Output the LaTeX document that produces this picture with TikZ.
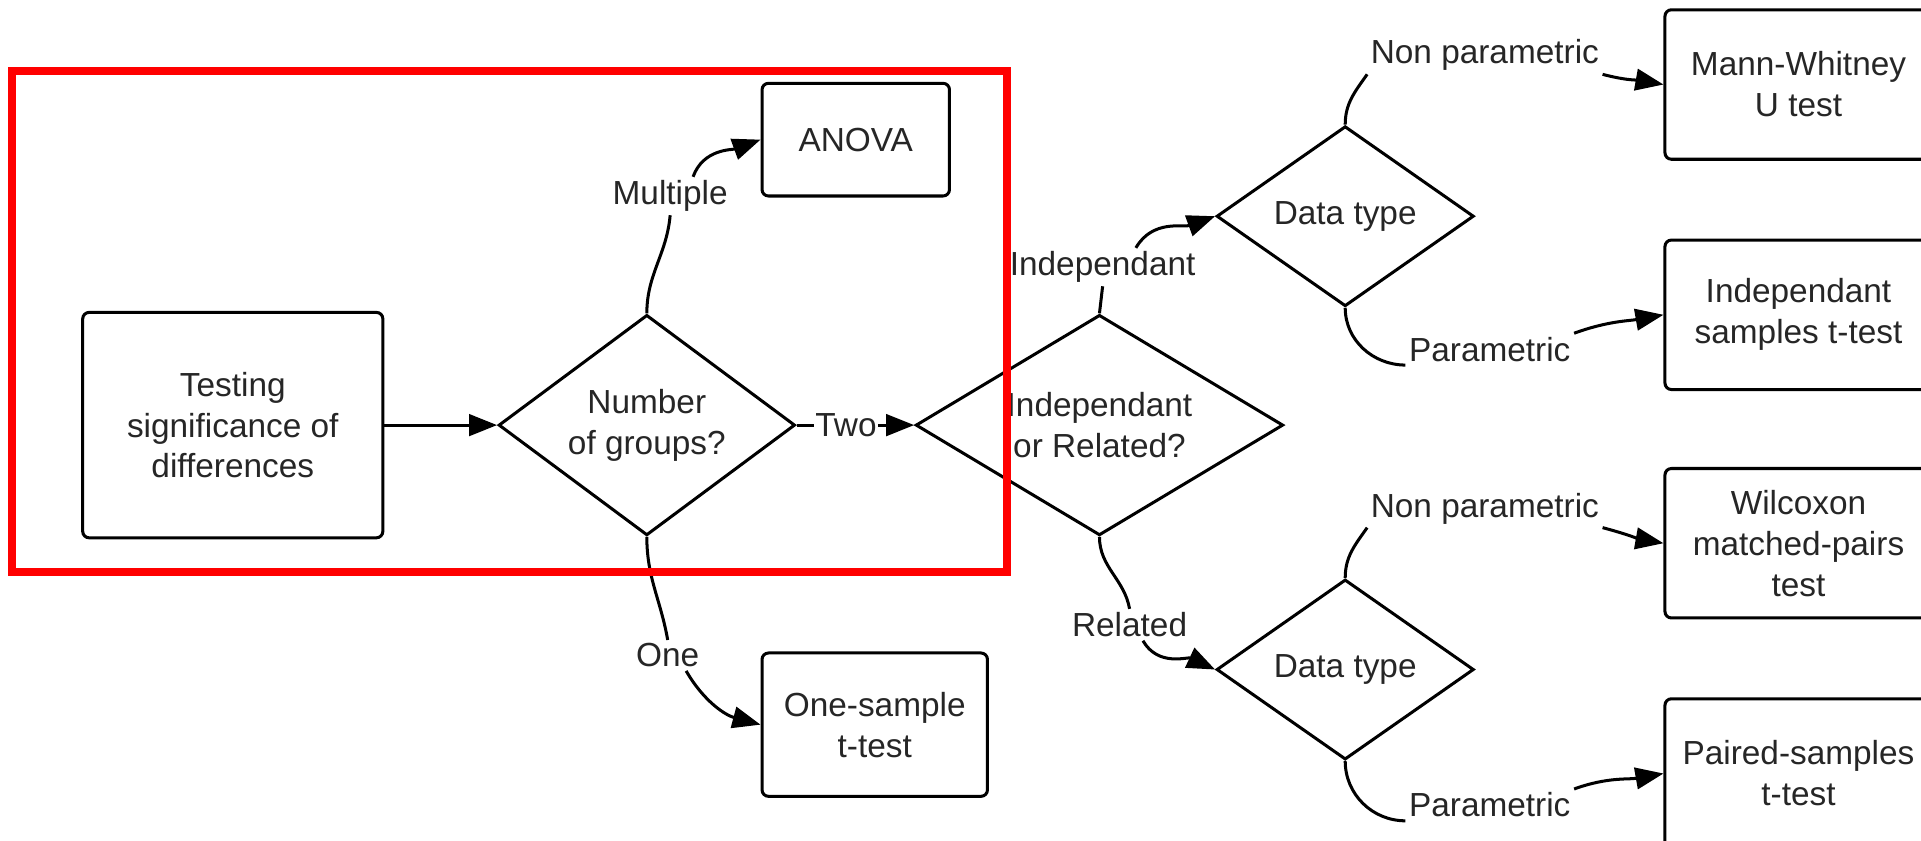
\documentclass[tikz,border=0pt]{standalone}
\usepackage{fontspec}
\setmainfont{Liberation Sans}
\usetikzlibrary{arrows.meta, positioning, shapes.geometric}

\begin{document}
\begin{tikzpicture}[
    every node/.style={font=\fontsize{15.5}{19}\selectfont, text=black!85},
    box/.style={rectangle, rounded corners=3pt, draw, line width=1.4pt, align=center},
    result/.style={box, minimum width=4.36cm, minimum height=2.44cm},
    decision/.style={diamond, draw, line width=1.4pt, align=center, inner sep=0pt},
    lbl/.style={fill=white, inner sep=1.5pt},
    link/.style={line width=1.4pt},
    arrow/.style={link, -{Triangle[length=13pt, width=10pt]}}
]

\fill[white] (0,0) rectangle (31.36,13.72);
\useasboundingbox (0,0) rectangle (31.36,13.72);
\clip (0,0) rectangle (31.36,13.72);

% main chain
\node[box, minimum width=4.9cm, minimum height=3.68cm] (start) at (3.80,6.78) {Testing\\significance of\\differences};
\node[decision, aspect=1.35, minimum width=4.84cm, minimum height=3.6cm, right=1.84cm of start] (groups) {Number\\of groups?};
\node[decision, aspect=1.67, minimum width=6cm, minimum height=3.6cm, right=1.92cm of groups] (relation) {Independant\\or Related?};

\node[box, minimum width=3.06cm, minimum height=1.84cm] (anova) at (13.97,11.44) {ANOVA};
\node[box, minimum width=3.68cm, minimum height=2.34cm] (onesample) at (14.28,1.89) {One-sample\\t-test};

\node[decision, aspect=1.43, minimum width=4.2cm, minimum height=2.94cm] (typeA) at (21.96,10.19) {Data type};
\node[decision, aspect=1.43, minimum width=4.2cm, minimum height=2.94cm] (typeB) at (21.96,2.79) {Data type};

% tests on the right
\node[result] (mannwhitney) at (29.36,12.34) {Mann-Whitney\\U test};
\node[result, below=1.27cm of mannwhitney] (indsamples) {Independant\\samples t-test};
\node[result, below=1.24cm of indsamples]  (wilcoxon)   {Wilcoxon\\matched-pairs\\test};
\node[result, below=1.27cm of wilcoxon]    (paired)     {Paired-samples\\t-test};

% branch labels
\node[lbl] (multiple) at (10.94,10.52) {Multiple};
\node[lbl] (one)      at (10.90,3.02)  {One};
\node[lbl] (indep)    at (18.00,9.36)  {Independant};
\node[lbl] (related)  at (18.44,3.52)  {Related};
\node[lbl] (nonparA)  at (24.24,12.82) {Non parametric};
\node[lbl] (parA)     at (24.32,8.02)  {Parametric};
\node[lbl] (nonparB)  at (24.24,5.42)  {Non parametric};
\node[lbl] (parB)     at (24.32,0.58)  {Parametric};

\draw[arrow] (start) -- (groups);
\draw[arrow] (groups) -- node[lbl, inner sep=0.5pt, pos=0.42] (two) {Two} (relation);

\draw[link]  (groups.north) to[out=90, in=-95] (multiple.south);
\draw[arrow] (multiple.40) to[out=70, in=200] (anova.west);
\draw[link]  (groups.south) to[out=-90, in=100] (one.north);
\draw[arrow] (one.-40) to[out=-60, in=165] (onesample.west);

\draw[link]  (relation.north) -- (indep.south);
\draw[arrow] (indep.30) to[out=60, in=200] (typeA.west);
\draw[link]  (relation.south) to[out=-90, in=100] (related.north);
\draw[arrow] (related.-50) to[out=-60, in=155] (typeB.west);

\draw[link]  (typeA.north) to[out=90, in=235] (nonparA.south west);
\draw[arrow] (nonparA.south east) to[out=-15, in=170] (mannwhitney.west);
\draw[link]  (typeA.south) to[out=-90, in=180] (parA.south west);
\draw[arrow] (parA.north east) to[out=20, in=190] (indsamples.west);

\draw[link]  (typeB.north) to[out=90, in=235] (nonparB.south west);
\draw[arrow] (nonparB.south east) to[out=-15, in=170] (wilcoxon.west);
\draw[link]  (typeB.south) to[out=-90, in=180] (parB.south west);
\draw[arrow] (parB.north east) to[out=20, in=190] (paired.west);

% highlight frame
\draw[red, line width=3.5pt] (0.2,4.38) rectangle (16.44,12.56);

\end{tikzpicture}
\end{document}
